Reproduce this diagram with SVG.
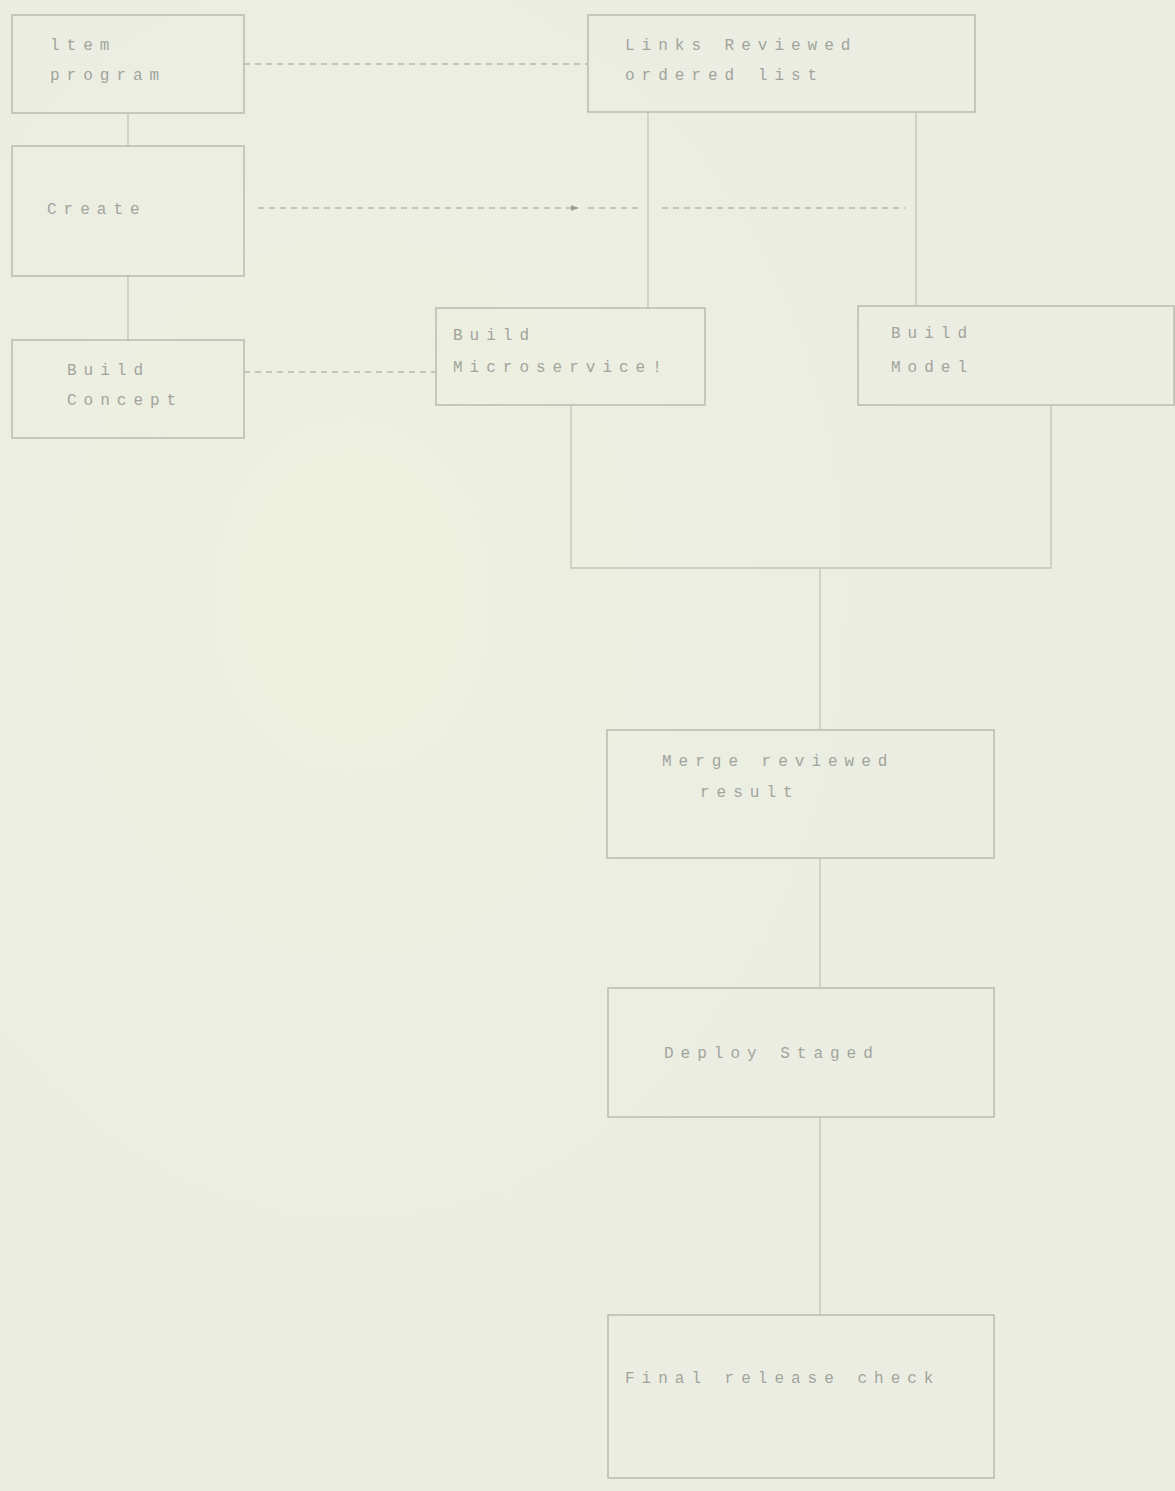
<svg xmlns="http://www.w3.org/2000/svg" width="1175" height="1491" viewBox="0 0 1175 1491">
<defs>
<style>
.box{fill:none;stroke:#b9bbb1;stroke-width:1.5}
.ln{fill:none;stroke:#c2c4ba;stroke-width:1.3}
.dash{fill:none;stroke:#b6b8ae;stroke-width:1.3;stroke-dasharray:6 5}
.t{font-family:"Liberation Mono","DejaVu Sans Mono",monospace;font-size:16px;fill:#a2a49c;letter-spacing:7px}
</style>
<marker id="ah" viewBox="0 0 10 10" refX="9" refY="5" markerWidth="6" markerHeight="6" orient="auto">
<path d="M0,1 L10,5 L0,9 z" fill="#9c9e96"/>
</marker>
<radialGradient id="g1" cx="0.3" cy="0.4" r="0.6">
<stop offset="0" stop-color="#eef2dc"/>
<stop offset="1" stop-color="#ebede3" stop-opacity="0"/>
</radialGradient>
</defs>
<rect x="0" y="0" width="1175" height="1491" fill="#ebede3"/>
<rect x="0" y="0" width="1175" height="1491" fill="url(#g1)"/>
<g id="connectors">
<path class="ln" d="M128,113 V146"/>
<path class="ln" d="M128,276 V340"/>
<path class="dash" d="M244,64 H588"/>
<path class="dash" d="M258,208 H578" marker-end="url(#ah)"/>
<path class="dash" d="M588,208 H640"/>
<path class="dash" d="M662,208 H905"/>
<path class="dash" d="M244,372 H436"/>
<path class="ln" d="M648,112 V308"/>
<path class="ln" d="M916,112 V306"/>
<path class="ln" d="M571,405 V568 H1051 V405"/>
<path class="ln" d="M820,568 V730"/>
<path class="ln" d="M820,858 V988"/>
<path class="ln" d="M820,1117 V1315"/>
</g>
<g id="n1"><rect class="box" x="12" y="15" width="232" height="98"/>
<text class="t" x="50" y="50">ltem</text><text class="t" x="50" y="80">program</text></g>
<g id="n2"><rect class="box" x="588" y="15" width="387" height="97"/>
<text class="t" x="625" y="50">Links  Reviewed</text><text class="t" x="625" y="80">ordered list</text></g>
<g id="n3"><rect class="box" x="12" y="146" width="232" height="130"/>
<text class="t" x="47" y="214">Create</text></g>
<g id="n4"><rect class="box" x="12" y="340" width="232" height="98"/>
<text class="t" x="67" y="375">Build</text><text class="t" x="67" y="405">Concept</text></g>
<g id="n5"><rect class="box" x="436" y="308" width="269" height="97"/>
<text class="t" x="453" y="340">Build</text><text class="t" x="453" y="372">Microservice!</text></g>
<g id="n6"><rect class="box" x="858" y="306" width="316" height="99"/>
<text class="t" x="891" y="338">Build</text><text class="t" x="891" y="372">Model</text></g>
<g id="n7"><rect class="box" x="607" y="730" width="387" height="128"/>
<text class="t" x="662" y="766">Merge reviewed</text><text class="t" x="700" y="797">result</text></g>
<g id="n8"><rect class="box" x="608" y="988" width="386" height="129"/>
<text class="t" x="664" y="1058">Deploy  Staged</text></g>
<g id="n9"><rect class="box" x="608" y="1315" width="386" height="163"/>
<text class="t" x="625" y="1383">Final release check</text></g>
</svg>
